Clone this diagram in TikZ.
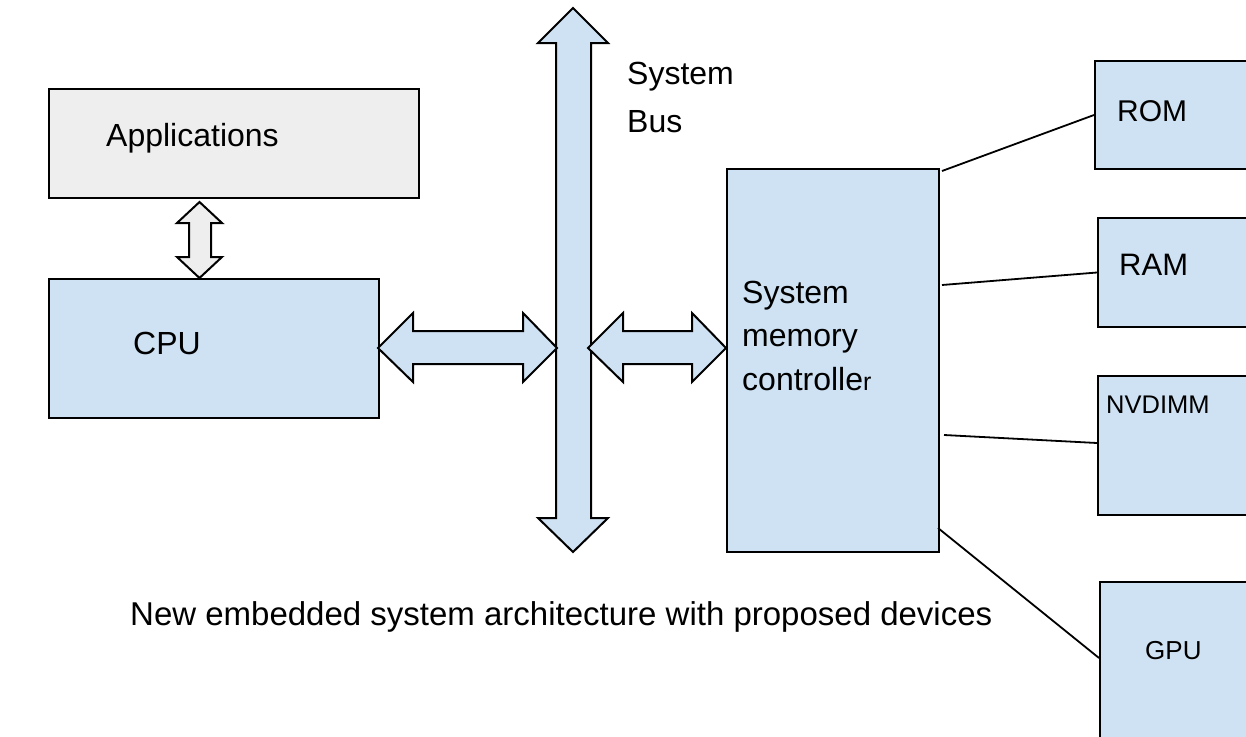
\documentclass[tikz,border=0pt]{standalone}
\usepackage{fontspec}
\setmainfont{Liberation Sans}
\definecolor{boxblue}{HTML}{CFE2F3}
\definecolor{boxgray}{HTML}{EEEEEE}
\tikzset{
  box/.style={draw=black, line width=2pt, rectangle, inner sep=0pt, anchor=north west},
  bluebox/.style={box, fill=boxblue},
  graybox/.style={box, fill=boxgray},
  lbl/.style={inner sep=0pt, anchor=base west, font=\fontsize{32}{38}\selectfont},
  smalllbl/.style={inner sep=0pt, anchor=base west, font=\fontsize{26}{31}\selectfont},
  blockarrow/.style={draw=black, line width=2pt, line join=miter, fill=boxblue},
  wire/.style={draw=black, line width=1.8pt}
}
\begin{document}
\begin{tikzpicture}[x=1pt, y=-1pt]
\useasboundingbox (0,0) rectangle (1246,736);
\clip (0,0) rectangle (1246,736);
\fill[white] (0,0) rectangle (1246,736);

% left column: applications above the CPU
\node[graybox, minimum width=370pt, minimum height=109pt] (app) at (48,88) {};
\node[bluebox, minimum width=330pt, minimum height=139pt] (cpu) at (48,278) {};
\node[lbl] (applbl) at (106,146.7) {Applications};
\node[lbl] (cpulbl) at (133,354.3) {CPU};

% double arrow between applications and CPU
\draw[blockarrow, fill=boxgray]
  (199.5,202) -- (222,223) -- (211,223) -- (211,257) -- (222,257) -- (199.5,278)
  -- (177,257) -- (189,257) -- (189,223) -- (177,223) -- cycle;

% system bus
\draw[blockarrow]
  (573,8) -- (608,43) -- (591,43) -- (591,518) -- (608,518) -- (573,552)
  -- (538,518) -- (556,518) -- (556,43) -- (538,43) -- cycle;
\node[lbl] (buslbl1) at (627,84.3) {System};
\node[lbl] (buslbl2) at (627,132.3) {Bus};

% CPU <-> bus
\draw[blockarrow]
  (378,348) -- (413,313) -- (413,331) -- (523,331) -- (523,313) -- (557,348)
  -- (523,382) -- (523,364) -- (413,364) -- (413,382) -- cycle;

% bus <-> memory controller
\draw[blockarrow]
  (588,348) -- (623,313) -- (623,331) -- (692,331) -- (692,313) -- (726,348)
  -- (692,382) -- (692,364) -- (623,364) -- (623,382) -- cycle;

% memory controller
\node[bluebox, minimum width=212pt, minimum height=383pt] (ctrl) at (726,168) {};
\node[lbl] (ctrl1) at (742,303.3) {System};
\node[lbl] (ctrl2) at (742,346.5) {memory};
\node[lbl] (ctrl3) at (742,390) {controlle{\fontsize{25}{30}\selectfont r}};

% devices on the right
\node[bluebox, minimum width=200pt, minimum height=108pt] (rom) at (1094,60) {};
\node[bluebox, minimum width=200pt, minimum height=109pt] (ram) at (1097,217) {};
\node[bluebox, minimum width=200pt, minimum height=139pt] (nvd) at (1097,375) {};
\node[bluebox, minimum width=200pt, minimum height=180pt] (gpu) at (1099,581) {};
\node[inner sep=0pt, anchor=base west, font=\fontsize{30}{36}\selectfont] (romlbl) at (1117,121.7) {ROM};
\node[inner sep=0pt, anchor=base west, font=\fontsize{31}{37}\selectfont] (ramlbl) at (1119,275) {RAM};
\node[smalllbl, font=\fontsize{25.5}{30}\selectfont] (nvdlbl) at (1106,413.3) {NVDIMM};
\node[smalllbl] (gpulbl) at (1145,659) {GPU};

% controller links
\coordinate (c1) at (942,171);
\coordinate (c2) at (942,285);
\coordinate (c3) at (944,435);
\coordinate (c4) at (938,528);
\draw[wire] (c1) -- (rom.west);
\draw[wire] (c2) -- (ram.west);
\draw[wire] (c3) -- ([yshift=-68pt]nvd.north west);
\draw[wire] (c4) -- ([yshift=-77pt]gpu.north west);

% caption
\node[inner sep=0pt, anchor=base west, font=\fontsize{33}{40}\selectfont] (caption) at (130,625) {New embedded system architecture with proposed devices};
\end{tikzpicture}
\end{document}
